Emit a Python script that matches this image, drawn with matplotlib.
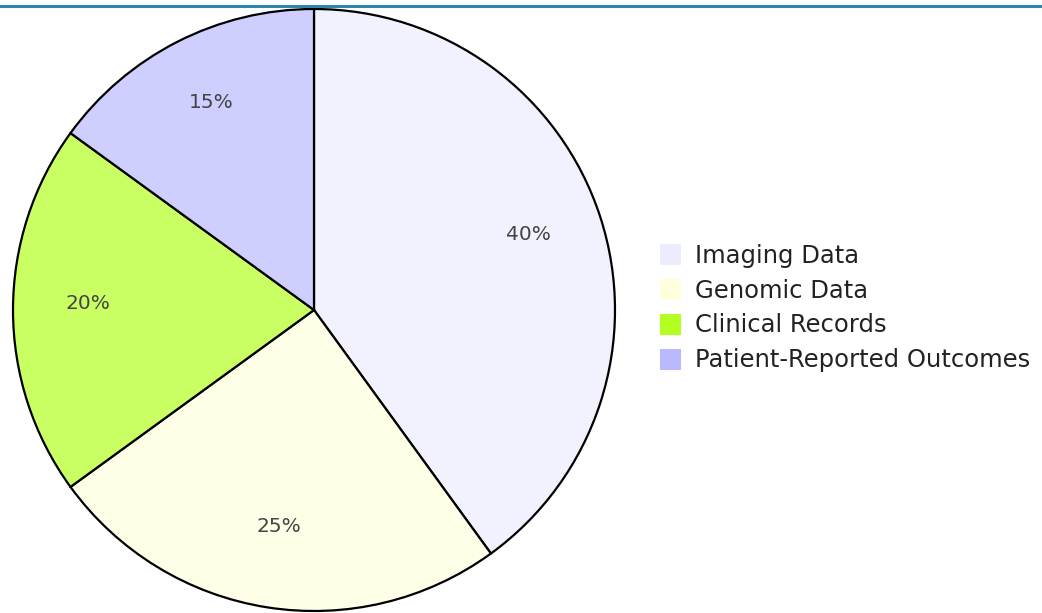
import matplotlib.pyplot as plt
from matplotlib.patches import Patch
from matplotlib.lines import Line2D

# data
labels = ['Imaging Data', 'Genomic Data', 'Clinical Records', 'Patient-Reported Outcomes']
values = [40, 25, 20, 15]
legend_colors = ['#ECECFF', '#FFFFDE', '#B3FF21', '#B9B9FF']
# slices are drawn at 70% opacity over white
slice_colors = ['#F2F2FF', '#FFFFE8', '#CAFF64', '#CECEFF']

plt.rcParams['font.family'] = ['DejaVu Sans']

fig = plt.figure(figsize=(10.42, 6.13), dpi=100)

# pie axes placed in pixel terms: circle centre ~(314, 310), radius ~301
W, H = 1042, 613
ax = fig.add_axes([13 / W, (H - 611) / H, 602 / W, 602 / H])
wedges, texts, autotexts = ax.pie(
    values, colors=slice_colors, startangle=90, counterclock=False,
    autopct='%d%%', pctdistance=0.75, radius=1,
    wedgeprops=dict(edgecolor='black', linewidth=1.6),
    textprops=dict(fontsize=14.5, color='#444444'))
for t in autotexts:
    x, y = t.get_position()
    t.set_position((x, y + 0.02))
ax.set_xlim(-1, 1)
ax.set_ylim(-1, 1)
ax.set_aspect('equal')
ax.axis('off')

# legend with full-strength colours
handles = [Patch(facecolor=c, edgecolor='none') for c in legend_colors]
fig.legend(handles, labels, loc='center left',
           bbox_to_anchor=(660 / W, 1 - 308 / H), frameon=False,
           fontsize=17.5, handlelength=0.85, handleheight=0.95,
           handletextpad=0.6, labelspacing=0.45, borderaxespad=0,
           borderpad=0, labelcolor='#222222')

# top rule
fig.add_artist(Line2D([0, 1], [1 - 6 / H, 1 - 6 / H], color='#2E86AB', linewidth=2.2))

fig.savefig('out.png', dpi=100)
